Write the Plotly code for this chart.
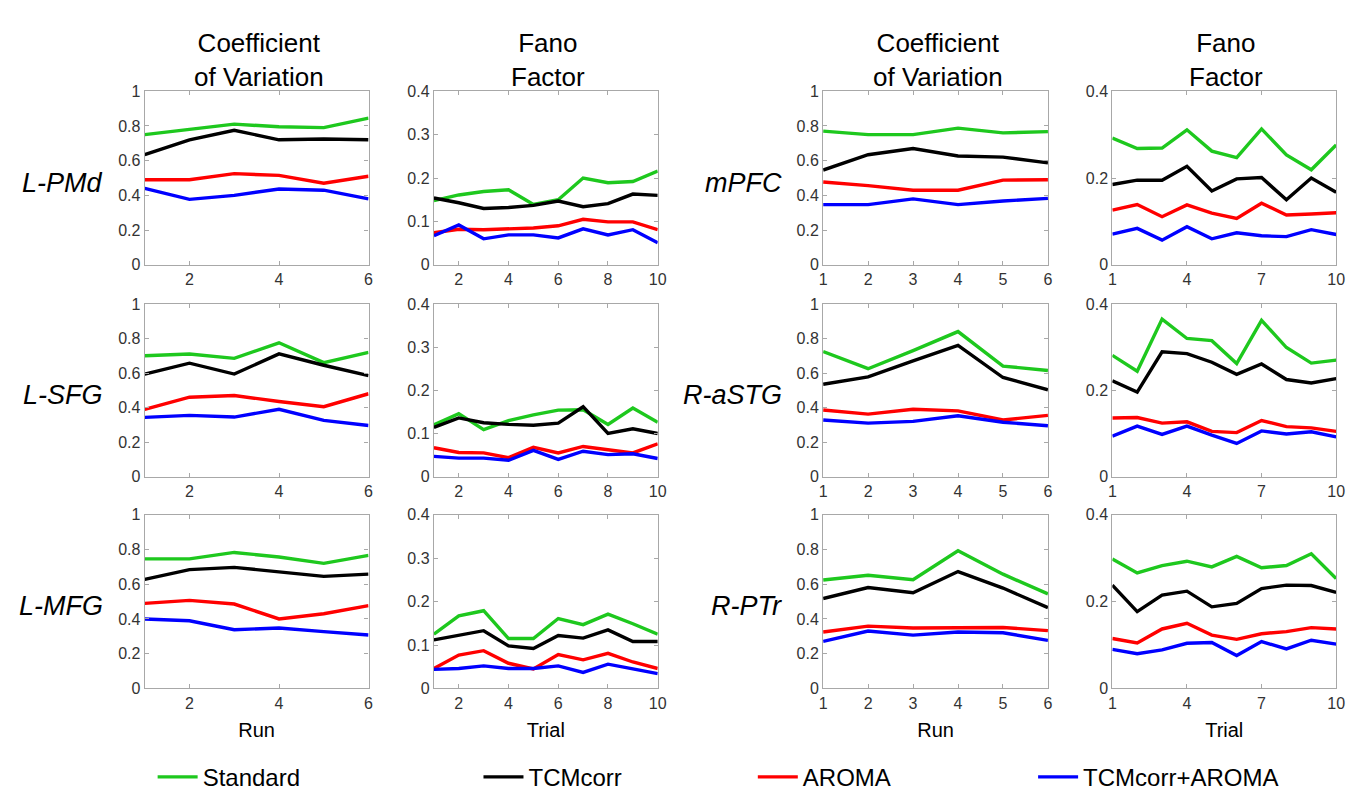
import plotly.graph_objects as go

W, H = 1354, 792

runs = [1, 2, 3, 4, 5, 6]
trials = [1, 2, 3, 4, 5, 6, 7, 8, 9, 10]
series_names = ["Standard", "TCMcorr", "AROMA", "TCMcorr+AROMA"]
series_colors = ["#1ec81e", "#000000", "#ff0000", "#0000ff"]
col_titles = ["Coefficient<br>of Variation", "Fano<br>Factor", "Coefficient<br>of Variation", "Fano<br>Factor"]
region_left = ["L-PMd", "L-SFG", "L-MFG"]
region_right = ["mPFC", "R-aSTG", "R-PTr"]

# ---- L-PMd ----
lpmd_cv_std = [0.75, 0.78, 0.81, 0.795, 0.79, 0.845]
lpmd_cv_tcm = [0.635, 0.72, 0.775, 0.72, 0.725, 0.72]
lpmd_cv_aro = [0.49, 0.49, 0.525, 0.515, 0.47, 0.51]
lpmd_cv_both = [0.44, 0.377, 0.40, 0.437, 0.43, 0.38]
lpmd_ff_std = [0.148, 0.161, 0.169, 0.173, 0.139, 0.15, 0.20, 0.189, 0.192, 0.216]
lpmd_ff_tcm = [0.154, 0.143, 0.13, 0.132, 0.137, 0.147, 0.134, 0.141, 0.163, 0.16]
lpmd_ff_aro = [0.074, 0.082, 0.081, 0.083, 0.085, 0.09, 0.105, 0.099, 0.099, 0.081]
lpmd_ff_both = [0.067, 0.092, 0.06, 0.069, 0.069, 0.062, 0.083, 0.069, 0.081, 0.051]

# ---- L-SFG ----
lsfg_cv_std = [0.70, 0.71, 0.685, 0.775, 0.66, 0.72]
lsfg_cv_tcm = [0.594, 0.657, 0.594, 0.711, 0.645, 0.585]
lsfg_cv_aro = [0.39, 0.46, 0.47, 0.435, 0.405, 0.48]
lsfg_cv_both = [0.343, 0.355, 0.345, 0.39, 0.326, 0.296]
lsfg_ff_std = [0.12, 0.146, 0.109, 0.13, 0.143, 0.154, 0.155, 0.121, 0.159, 0.126]
lsfg_ff_tcm = [0.114, 0.136, 0.125, 0.121, 0.119, 0.124, 0.162, 0.10, 0.111, 0.10]
lsfg_ff_aro = [0.067, 0.056, 0.055, 0.044, 0.068, 0.055, 0.07, 0.062, 0.055, 0.076]
lsfg_ff_both = [0.047, 0.043, 0.043, 0.038, 0.061, 0.04, 0.059, 0.051, 0.053, 0.042]

# ---- L-MFG ----
lmfg_cv_std = [0.746, 0.746, 0.783, 0.757, 0.72, 0.766]
lmfg_cv_tcm = [0.628, 0.684, 0.697, 0.671, 0.645, 0.658]
lmfg_cv_aro = [0.49, 0.507, 0.486, 0.40, 0.43, 0.477]
lmfg_cv_both = [0.40, 0.39, 0.338, 0.348, 0.327, 0.308]
lmfg_ff_std = [0.125, 0.167, 0.179, 0.115, 0.115, 0.161, 0.147, 0.171, 0.149, 0.125]
lmfg_ff_tcm = [0.112, 0.123, 0.133, 0.098, 0.092, 0.122, 0.116, 0.135, 0.108, 0.108]
lmfg_ff_aro = [0.046, 0.077, 0.087, 0.058, 0.045, 0.078, 0.066, 0.081, 0.061, 0.046]
lmfg_ff_both = [0.044, 0.046, 0.052, 0.046, 0.046, 0.052, 0.037, 0.056, 0.045, 0.034]

# ---- mPFC ----
mpfc_cv_std = [0.77, 0.75, 0.75, 0.787, 0.76, 0.767]
mpfc_cv_tcm = [0.546, 0.634, 0.67, 0.627, 0.62, 0.587]
mpfc_cv_aro = [0.477, 0.456, 0.43, 0.43, 0.488, 0.49]
mpfc_cv_both = [0.347, 0.347, 0.38, 0.347, 0.368, 0.383]
mpfc_ff_std = [0.292, 0.268, 0.269, 0.311, 0.262, 0.247, 0.313, 0.253, 0.219, 0.276]
mpfc_ff_tcm = [0.185, 0.195, 0.195, 0.227, 0.17, 0.198, 0.201, 0.15, 0.20, 0.167]
mpfc_ff_aro = [0.126, 0.139, 0.111, 0.138, 0.119, 0.107, 0.142, 0.115, 0.117, 0.12]
mpfc_ff_both = [0.071, 0.084, 0.057, 0.088, 0.06, 0.074, 0.067, 0.065, 0.081, 0.07]

# ---- R-aSTG ----
rastg_cv_std = [0.724, 0.625, 0.73, 0.84, 0.64, 0.615]
rastg_cv_tcm = [0.535, 0.578, 0.67, 0.76, 0.574, 0.503]
rastg_cv_aro = [0.386, 0.362, 0.39, 0.381, 0.328, 0.355]
rastg_cv_both = [0.328, 0.31, 0.32, 0.353, 0.315, 0.295]
rastg_ff_std = [0.281, 0.244, 0.365, 0.32, 0.315, 0.262, 0.362, 0.299, 0.263, 0.27]
rastg_ff_tcm = [0.222, 0.196, 0.289, 0.285, 0.265, 0.237, 0.261, 0.225, 0.217, 0.227]
rastg_ff_aro = [0.136, 0.137, 0.124, 0.127, 0.105, 0.102, 0.13, 0.116, 0.113, 0.105]
rastg_ff_both = [0.094, 0.117, 0.098, 0.117, 0.096, 0.077, 0.106, 0.099, 0.104, 0.092]

# ---- R-PTr ----
rptr_cv_std = [0.624, 0.652, 0.626, 0.793, 0.658, 0.544]
rptr_cv_tcm = [0.518, 0.581, 0.551, 0.673, 0.578, 0.465]
rptr_cv_aro = [0.325, 0.359, 0.348, 0.348, 0.351, 0.333]
rptr_cv_both = [0.271, 0.331, 0.307, 0.325, 0.321, 0.277]
rptr_ff_std = [0.298, 0.266, 0.283, 0.293, 0.28, 0.304, 0.278, 0.283, 0.31, 0.253]
rptr_ff_tcm = [0.238, 0.177, 0.215, 0.224, 0.188, 0.196, 0.23, 0.238, 0.237, 0.221]
rptr_ff_aro = [0.115, 0.105, 0.137, 0.15, 0.123, 0.113, 0.126, 0.131, 0.14, 0.137]
rptr_ff_both = [0.09, 0.08, 0.089, 0.104, 0.106, 0.076, 0.108, 0.091, 0.111, 0.102]

# panels: (row, col) -> list of series
panels = {
    (0, 0): [lpmd_cv_std, lpmd_cv_tcm, lpmd_cv_aro, lpmd_cv_both],
    (0, 1): [lpmd_ff_std, lpmd_ff_tcm, lpmd_ff_aro, lpmd_ff_both],
    (0, 2): [mpfc_cv_std, mpfc_cv_tcm, mpfc_cv_aro, mpfc_cv_both],
    (0, 3): [mpfc_ff_std, mpfc_ff_tcm, mpfc_ff_aro, mpfc_ff_both],
    (1, 0): [lsfg_cv_std, lsfg_cv_tcm, lsfg_cv_aro, lsfg_cv_both],
    (1, 1): [lsfg_ff_std, lsfg_ff_tcm, lsfg_ff_aro, lsfg_ff_both],
    (1, 2): [rastg_cv_std, rastg_cv_tcm, rastg_cv_aro, rastg_cv_both],
    (1, 3): [rastg_ff_std, rastg_ff_tcm, rastg_ff_aro, rastg_ff_both],
    (2, 0): [lmfg_cv_std, lmfg_cv_tcm, lmfg_cv_aro, lmfg_cv_both],
    (2, 1): [lmfg_ff_std, lmfg_ff_tcm, lmfg_ff_aro, lmfg_ff_both],
    (2, 2): [rptr_cv_std, rptr_cv_tcm, rptr_cv_aro, rptr_cv_both],
    (2, 3): [rptr_ff_std, rptr_ff_tcm, rptr_ff_aro, rptr_ff_both],
}

# layout geometry (pixels)
col_px = [(134, 360), (426, 652), (819, 1046), (1111, 1337)]
row_px = [(77, 255), (295, 472), (511, 689)]
x_ticks = [[2, 4, 6], [2, 4, 6, 8, 10], [1, 2, 3, 4, 5, 6], [1, 4, 7, 10]]
x_ranges = [[1, 6], [1, 10], [1, 6], [1, 10]]
y_ticks = [[0, 0.2, 0.4, 0.6, 0.8, 1], [0, 0.1, 0.2, 0.3, 0.4], [0, 0.2, 0.4, 0.6, 0.8, 1], [0, 0.2, 0.4]]
y_ranges = [[0, 1], [0, 0.4], [0, 1], [0, 0.4]]

FONT = "Arial, Liberation Sans, sans-serif"
AX_COLOR = "#a8a8a8"
TICK_FONT = dict(family=FONT, size=16, color="#333333")

fig = go.Figure()
layout = {}
legend_ids = ["legend", "legend2", "legend3", "legend4"]

n = 0
for r in range(3):
    for c in range(4):
        n += 1
        xa = "x" if n == 1 else f"x{n}"
        ya = "y" if n == 1 else f"y{n}"
        xkey = "xaxis" if n == 1 else f"xaxis{n}"
        ykey = "yaxis" if n == 1 else f"yaxis{n}"
        xvals = runs if c in (0, 2) else trials
        for s, vals in enumerate(panels[(r, c)]):
            fig.add_trace(go.Scatter(
                x=xvals, y=vals, mode="lines",
                line=dict(color=series_colors[s], width=3.4),
                name=series_names[s],
                showlegend=(n == 1),
                legend=legend_ids[s],
                xaxis=xa, yaxis=ya, hoverinfo="skip",
            ))
        x0, x1 = col_px[c]
        y0, y1 = row_px[r]
        common = dict(
            showgrid=False, zeroline=False, showline=True, linecolor=AX_COLOR,
            linewidth=1.2, mirror="ticks", ticks="inside", ticklen=4,
            tickcolor=AX_COLOR, tickwidth=1, tickfont=TICK_FONT,
        )
        layout[xkey] = dict(
            domain=[x0 / W, x1 / W], anchor=ya, range=x_ranges[c],
            tickvals=x_ticks[c], **common,
        )
        if r == 2:
            layout[xkey]["title"] = dict(
                text="Run" if c in (0, 2) else "Trial",
                font=dict(family=FONT, size=20, color="#000000"),
                standoff=12,
            )
        layout[ykey] = dict(
            domain=[1 - y1 / H, 1 - y0 / H], anchor=xa, range=y_ranges[c],
            tickvals=y_ticks[c], **common,
        )

annotations = []
for c in range(4):
    x0, x1 = col_px[c]
    annotations.append(dict(
        text=col_titles[c], x=(x0 + x1) / 2 / W + 2 / W, y=1 - 45 / H,
        xref="paper", yref="paper", xanchor="center", yanchor="middle",
        showarrow=False, font=dict(family=FONT, size=26, color="#000000"),
    ))
for r in range(3):
    y0, y1 = row_px[r]
    yc = (y0 + y1) / 2 + 5
    for lbl, c in ((region_left[r], 0), (region_right[r], 2)):
        annotations.append(dict(
            text=f"<i>{lbl}</i>", x=(col_px[c][0] - 40) / W, y=1 - yc / H,
            xref="paper", yref="paper", xanchor="right", yanchor="middle",
            showarrow=False, font=dict(family=FONT, size=27, color="#000000"),
        ))

legend_text_x = [187, 516, 793, 1076]
for i, lid in enumerate(legend_ids):
    layout[lid] = dict(
        x=(legend_text_x[i] - 45) / W, y=1 - 780 / H,
        xanchor="left", yanchor="middle", orientation="h",
        font=dict(family=FONT, size=24, color="#000000"),
        bgcolor="rgba(0,0,0,0)", itemwidth=40,
    )

fig.update_layout(
    width=W, height=H, margin=dict(l=0, r=0, t=0, b=0),
    paper_bgcolor="white", plot_bgcolor="white",
    annotations=annotations, **layout,
)

fig.write_html("out.html")
